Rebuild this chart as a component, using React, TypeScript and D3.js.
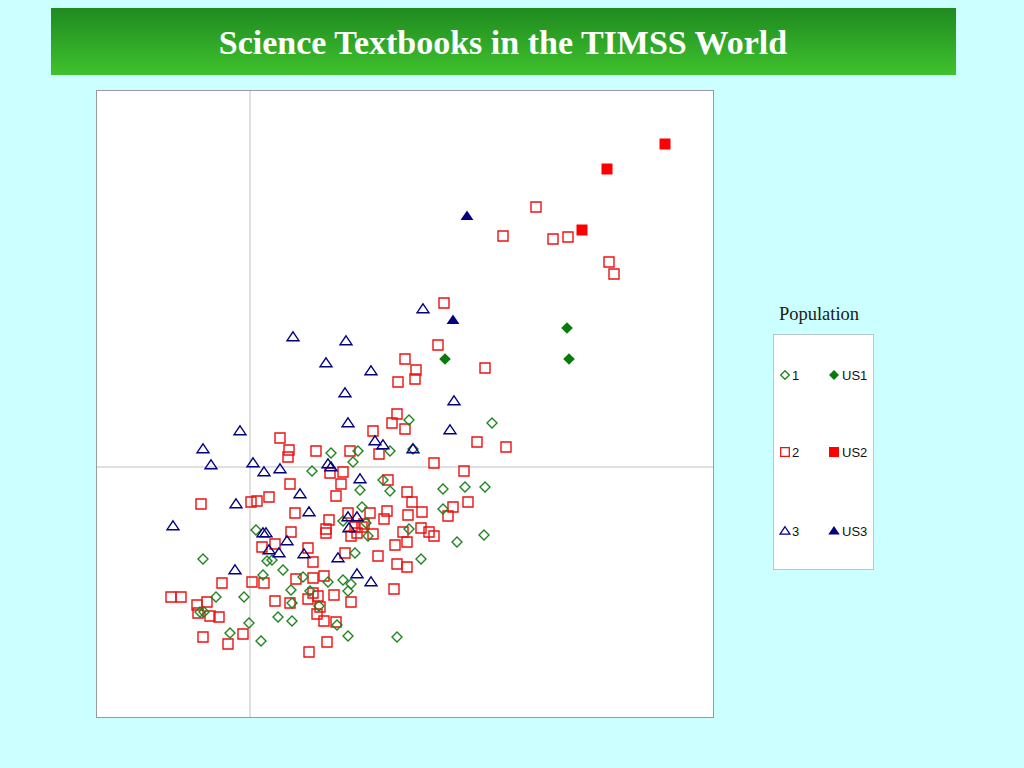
import React from "react";
import * as d3 from "d3";

// Scores on two axes (arbitrary units, origin at crosshair)
const pop1: [number, number][] = [
  [0.81, 0.14], [1.08, 0.16], [1.40, 0.16], [1.03, 0.05], [0.62, -0.04], [1.33, -0.13],
  [1.10, -0.23], [1.40, -0.24], [1.59, 0.47], [2.42, 0.44], [1.63, 0.18], [1.93, -0.22],
  [2.15, -0.20], [2.35, -0.20], [0.06, -0.63], [-0.47, -0.92], [0.17, -0.94], [0.22, -0.93],
  [0.13, -1.08], [0.93, -0.54], [1.12, -0.40], [1.16, -0.56], [1.18, -0.69], [1.05, -0.86],
  [0.33, -1.03], [0.53, -1.10], [0.93, -1.13], [1.93, -0.42], [1.59, -0.62], [2.07, -0.75],
  [2.34, -0.68], [1.71, -0.92], [-0.34, -1.30], [-0.06, -1.30], [-0.50, -1.45], [-0.46, -1.45],
  [0.28, -1.50], [-0.01, -1.56], [-0.20, -1.66], [0.11, -1.74], [0.78, -1.15], [1.01, -1.17],
  [0.41, -1.23], [0.60, -1.24], [0.98, -1.24], [0.42, -1.36], [0.69, -1.39], [0.42, -1.54],
  [0.87, -1.58], [0.98, -1.69], [1.47, -1.70],
];

const pop2: [number, number][] = [
  [2.86, 2.60], [2.53, 2.31], [3.03, 2.28], [3.18, 2.30], [3.59, 2.05], [3.64, 1.93],
  [1.94, 1.64], [1.88, 1.22], [2.35, 0.99], [1.55, 1.08], [1.66, 0.97], [1.65, 0.88],
  [1.48, 0.85], [0.30, 0.29], [1.47, 0.53], [1.42, 0.44], [0.39, 0.17], [0.38, 0.10],
  [0.66, 0.16], [1.00, 0.16], [1.23, 0.36], [1.29, 0.13], [0.80, -0.06], [0.93, -0.05],
  [0.91, -0.17], [0.40, -0.17], [1.38, -0.13], [1.55, 0.38], [2.27, 0.25], [2.56, 0.20],
  [1.84, 0.04], [2.14, -0.04], [1.57, -0.25], [-0.49, -0.37], [0.01, -0.35], [0.07, -0.34],
  [0.19, -0.30], [0.12, -0.80], [0.25, -0.77], [-0.28, -1.16], [0.02, -1.15], [0.14, -1.16],
  [0.86, -0.29], [0.45, -0.46], [0.79, -0.53], [0.76, -0.62], [0.76, -0.66], [0.41, -0.65],
  [0.58, -0.81], [0.63, -0.95], [0.95, -0.86], [1.28, -0.89], [1.45, -0.78], [1.47, -0.97],
  [0.98, -0.46], [1.05, -0.60], [1.12, -0.60], [1.07, -0.66], [1.01, -0.69], [1.14, -0.57],
  [1.23, -0.67], [1.20, -0.46], [1.34, -0.52], [1.37, -0.44], [0.46, -1.12], [0.63, -1.11],
  [0.74, -1.09], [1.62, -0.35], [2.18, -0.35], [2.03, -0.40], [1.72, -0.45], [1.98, -0.49],
  [1.58, -0.48], [1.71, -0.61], [1.79, -0.65], [1.84, -0.69], [1.57, -0.75], [1.53, -0.65],
  [1.57, -1.00], [-0.79, -1.30], [-0.69, -1.30], [0.25, -1.34], [-0.53, -1.38], [-0.43, -1.35],
  [-0.52, -1.46], [-0.40, -1.49], [-0.31, -1.50], [-0.07, -1.67], [-0.47, -1.70], [-0.22, -1.77],
  [1.44, -1.22], [0.63, -1.26], [0.68, -1.29], [0.84, -1.28], [1.01, -1.35], [0.58, -1.32],
  [0.40, -1.36], [0.70, -1.40], [0.67, -1.47], [0.74, -1.54], [0.86, -1.55], [0.77, -1.75],
  [0.59, -1.85],
];

const pop3: [number, number][] = [
  [1.73, 1.58], [0.43, 1.30], [0.96, 1.26], [0.76, 1.04], [1.21, 0.96], [0.95, 0.74],
  [2.04, 0.66], [-0.10, 0.36], [-0.47, 0.18], [-0.39, 0.02], [0.03, 0.04], [0.14, -0.05],
  [0.30, -0.02], [0.98, 0.44], [1.25, 0.26], [1.33, 0.22], [0.78, 0.03], [0.81, 0.00],
  [1.10, -0.12], [2.00, 0.37], [1.63, 0.18], [-0.14, -0.37], [-0.77, -0.59], [0.13, -0.66],
  [0.16, -0.66], [0.19, -0.83], [0.29, -0.86], [-0.15, -1.03], [0.50, -0.27], [0.59, -0.45],
  [0.37, -0.74], [0.54, -0.87], [0.88, -0.91], [0.98, -0.50], [1.07, -0.50], [0.99, -0.61],
  [1.07, -1.07], [1.21, -1.15],
];

const us1: [number, number][] = [[3.17, 1.39], [3.19, 1.08], [1.95, 1.08]];
const us2: [number, number][] = [[4.15, 3.23], [3.57, 2.98], [3.32, 2.37]];
const us3: [number, number][] = [[2.17, 2.51], [2.03, 1.47]];

const title = "Science Textbooks in the TIMSS World";
const legendTitle = "Population";
const legendRows = [
  { open: "1", filled: "US1", shape: "diamond" },
  { open: "2", filled: "US2", shape: "square" },
  { open: "3", filled: "US3", shape: "triangle" },
];

const GREEN = "#1e841e";
const RED = "#ee1111";
const NAVY = "#000080";
const colorOf: Record<string, string> = { diamond: GREEN, square: RED, triangle: NAVY };

function shapePath(shape: string, r: number): string {
  const p = d3.path();
  if (shape === "diamond") {
    p.moveTo(0, -r); p.lineTo(r, 0); p.lineTo(0, r); p.lineTo(-r, 0); p.closePath();
  } else if (shape === "square") {
    p.rect(-r, -r, 2 * r, 2 * r);
  } else {
    const h = r * 1.7;
    p.moveTo(0, -h * 0.58); p.lineTo(r * 1.15, h * 0.42); p.lineTo(-r * 1.15, h * 0.42); p.closePath();
  }
  return p.toString();
}

const openSize: Record<string, number> = { diamond: 5, square: 5, triangle: 5.2 };
const filledSize: Record<string, number> = { diamond: 5.8, square: 5.5, triangle: 5.6 };

export default function App() {
  const x = d3.scaleLinear().domain([-1.54, 4.63]).range([96, 713]);
  const y = d3.scaleLinear().domain([-2.5, 3.77]).range([717, 90]);

  const openMarks = (data: [number, number][], shape: string) =>
    data.map((d, i) => (
      <path
        key={shape + i}
        d={shapePath(shape, openSize[shape])}
        transform={`translate(${x(d[0])},${y(d[1])})`}
        fill="none"
        stroke={colorOf[shape]}
        strokeWidth={1.4}
      />
    ));
  const filledMarks = (data: [number, number][], shape: string) =>
    data.map((d, i) => (
      <path
        key={"f" + shape + i}
        d={shapePath(shape, filledSize[shape])}
        transform={`translate(${x(d[0])},${y(d[1])})`}
        fill={shape === "square" ? "#ff0000" : shape === "diamond" ? "#0a7a0a" : NAVY}
        stroke="none"
      />
    ));

  const legendY = [375, 452, 531];

  return (
    <svg
      width={1024}
      height={768}
      style={{ position: "absolute", left: 0, top: 0 }}
    >
      <defs>
        <linearGradient id="titleGrad" x1="0" y1="0" x2="0" y2="1">
          <stop offset="0" stopColor="#1f8a1f" />
          <stop offset="1" stopColor="#3fc22e" />
        </linearGradient>
      </defs>
      <rect x={0} y={0} width={1024} height={768} fill="#ccffff" />
      <rect x={51} y={8} width={905} height={67} fill="url(#titleGrad)" />
      <text
        x={503}
        y={54}
        textAnchor="middle"
        fill="#ffffff"
        fontFamily="'Liberation Serif', 'Times New Roman', serif"
        fontWeight="bold"
        fontSize={34}
      >
        {title}
      </text>

      <rect x={96.5} y={90.5} width={617} height={627} fill="#ffffff" stroke="#9a9a9a" strokeWidth={1} />
      <line x1={x(0)} x2={x(0)} y1={91} y2={717} stroke="#c0c0c0" strokeWidth={1} />
      <line x1={97} x2={713} y1={y(0)} y2={y(0)} stroke="#c0c0c0" strokeWidth={1} />

      <g>
        {openMarks(pop2, "square")}
        {openMarks(pop1, "diamond")}
        {openMarks(pop3, "triangle")}
        {filledMarks(us1, "diamond")}
        {filledMarks(us2, "square")}
        {filledMarks(us3, "triangle")}
      </g>

      <text
        x={819}
        y={320}
        textAnchor="middle"
        fill="#1a1a1a"
        fontFamily="'Liberation Serif', 'Times New Roman', serif"
        fontSize={18.5}
      >
        {legendTitle}
      </text>
      <rect x={773.5} y={334.5} width={100} height={235} fill="#ffffff" stroke="#b8c8c8" strokeWidth={1} />
      {legendRows.map((r, i) => (
        <g key={r.open}>
          <path
            d={shapePath(r.shape, 4.3)}
            transform={`translate(785,${legendY[i]})`}
            fill="none"
            stroke={colorOf[r.shape]}
            strokeWidth={1.3}
          />
          <text x={792} y={legendY[i] + 4.5} fontFamily="'Liberation Sans', Arial, sans-serif" fontSize={13} fill="#111">
            {r.open}
          </text>
          <path
            d={shapePath(r.shape, 5)}
            transform={`translate(834,${legendY[i]})`}
            fill={r.shape === "square" ? "#ff0000" : r.shape === "diamond" ? "#0a7a0a" : NAVY}
          />
          <text x={842} y={legendY[i] + 4.5} fontFamily="'Liberation Sans', Arial, sans-serif" fontSize={13} fill="#111">
            {r.filled}
          </text>
        </g>
      ))}
    </svg>
  );
}
